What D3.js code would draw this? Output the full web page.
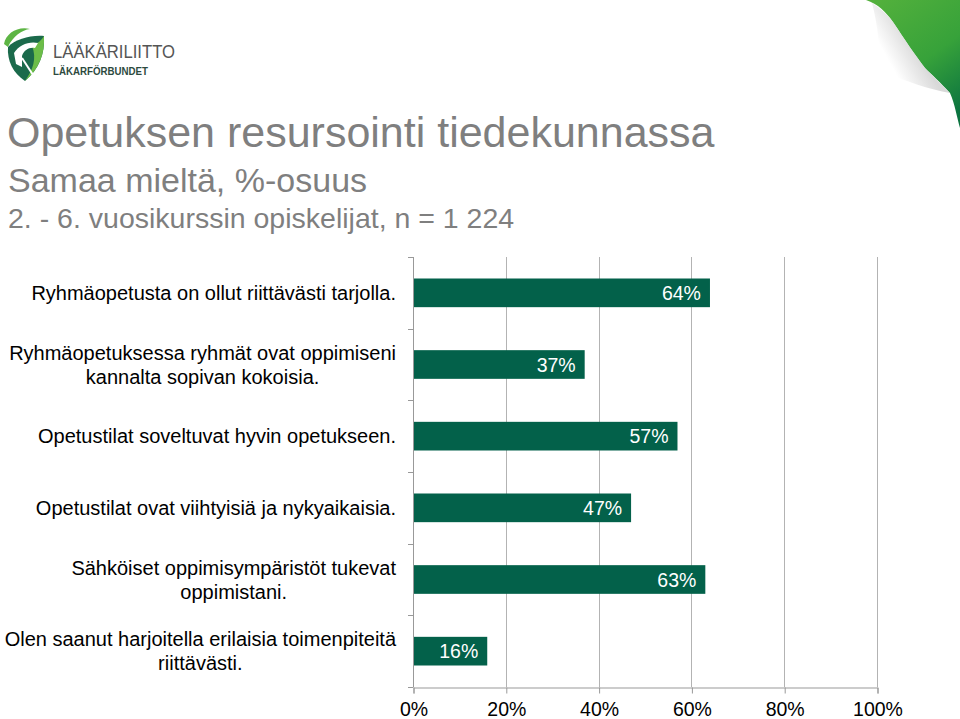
<!DOCTYPE html>
<html><head><meta charset="utf-8">
<script src="https://cdn.jsdelivr.net/npm/d3@7"></script>
<style>body{margin:0;background:#fff}svg{display:block}text{font-family:"Liberation Sans",Arial,sans-serif}</style>
</head><body>
<svg id="c" width="960" height="719"></svg>
<script>
const categories = [
  ["Ryhmäopetusta on ollut riittävästi tarjolla."],
  ["Ryhmäopetuksessa ryhmät ovat oppimiseni", "kannalta sopivan kokoisia."],
  ["Opetustilat soveltuvat hyvin opetukseen."],
  ["Opetustilat ovat viihtyisiä ja nykyaikaisia."],
  ["Sähköiset oppimisympäristöt tukevat", "oppimistani."],
  ["Olen saanut harjoitella erilaisia toimenpiteitä", "riittävästi."]
];
const values = [64, 37, 57, 47, 63, 16];
const tickValues = [0, 20, 40, 60, 80, 100];
const titleLines = ["Opetuksen resursointi tiedekunnassa", "Samaa mieltä, %-osuus", "2. - 6. vuosikurssin opiskelijat, n = 1 224"];

const svg = d3.select("#c");
const defs = svg.append("defs");
const g1 = defs.append("linearGradient").attr("id","curlG").attr("gradientUnits","userSpaceOnUse")
  .attr("x1",880).attr("y1",0).attr("x2",960).attr("y2",110);
g1.append("stop").attr("offset","0").attr("stop-color","#52b03c");
g1.append("stop").attr("offset","0.55").attr("stop-color","#37a23a");
g1.append("stop").attr("offset","1").attr("stop-color","#0c7440");
const g2 = defs.append("linearGradient").attr("id","foldG").attr("gradientUnits","userSpaceOnUse")
  .attr("x1",915).attr("y1",45).attr("x2",888).attr("y2",60);
g2.append("stop").attr("offset","0").attr("stop-color","#cfcfcf");
g2.append("stop").attr("offset","1").attr("stop-color","#ffffff");

// page curl
svg.append("path").attr("d","M866,0 L960,0 L960,128 C957,118 955,104 950,93 C940,82 932,75 925,68 C915,55 905,40 893,22 C886,12 878,4 866,0 Z").attr("fill","url(#curlG)");
svg.append("path").attr("d","M872,3 C880,8 887,14 893,22 C905,40 915,55 925,68 C935,78 945,88 950,93 C930,90 905,80 880,72 C880,50 878,25 872,3 Z").attr("fill","url(#foldG)").attr("opacity",0.8);

// logo
const logo = svg.append("g");
logo.append("path").attr("d","M4,44 C6,33 18,26 30,29 C22,30 13,36 8,47 Z").attr("fill","#5db544");
logo.append("path").attr("d","M8,47 C16,39 30,35 44,36 C45,54 39,69 25,81 C13,73 7,61 8,47 Z").attr("fill","#1b6a4b");
logo.append("path").attr("d","M32,46 C38,43 42,40 44,36 C45,54 39,69 25,81 C33,70 37,58 32,46 Z").attr("fill","#6cbd48");
logo.append("path").attr("d","M14,53 C19,45 29,41 38,43 L35,48 C29,47 24,50 22,56 L22,67 L16,64 Z").attr("fill","#fff");
logo.append("path").attr("d","M22,58 L35,78").attr("stroke","#fff").attr("stroke-width",2).attr("fill","none");
logo.append("text").attr("x",53).attr("y",58).attr("font-size",18).attr("fill","#555")
  .attr("textLength",122).attr("lengthAdjust","spacingAndGlyphs").text("LÄÄKÄRILIITTO");
logo.append("text").attr("x",53).attr("y",74.5).attr("font-size",10.5).attr("fill","#2d4a3e").attr("font-weight","bold")
  .attr("textLength",95).attr("lengthAdjust","spacingAndGlyphs").text("LÄKARFÖRBUNDET");

// titles
svg.append("text").attr("x",7).attr("y",147).attr("font-size",43).attr("fill","#7f7f7f").text(titleLines[0]);
svg.append("text").attr("x",8).attr("y",192).attr("font-size",34).attr("fill","#7f7f7f").text(titleLines[1]);
svg.append("text").attr("x",8).attr("y",228).attr("font-size",28.5).attr("fill","#7f7f7f").text(titleLines[2]);

// chart
const x = d3.scaleLinear().domain([0,100]).range([413,877]);
const y = d3.scaleBand().domain(d3.range(categories.length)).range([257,687]).paddingInner(0.6).paddingOuter(0.3);
const band = (687-257)/categories.length;

// gridlines
svg.append("g").selectAll("line").data(tickValues.slice(1)).join("line")
  .attr("x1",d=>Math.round(x(d))+0.5).attr("x2",d=>Math.round(x(d))+0.5).attr("y1",257).attr("y2",687)
  .attr("stroke","#b3b3b3").attr("stroke-width",1);

// bars
svg.append("g").selectAll("rect").data(values).join("rect")
  .attr("x",x(0)).attr("y",(d,i)=>y(i)).attr("width",d=>x(d)-x(0)).attr("height",y.bandwidth())
  .attr("fill","#03614a");

svg.append("g").selectAll("text").data(values).join("text")
  .attr("x",d=>x(d)-9).attr("y",(d,i)=>y(i)+y.bandwidth()/2+7)
  .attr("text-anchor","end").attr("font-size",19.5).attr("fill","#fff").text(d=>d+"%");

// axes
const yLeft = svg.append("g");
yLeft.append("line").attr("x1",413.5).attr("x2",413.5).attr("y1",257).attr("y2",687).attr("stroke","#999");
yLeft.selectAll("line.t").data(d3.range(categories.length+1)).join("line").attr("class","t")
  .attr("x1",408).attr("x2",413.5).attr("y1",i=>Math.round(257+i*band)+0.5).attr("y2",i=>Math.round(257+i*band)+0.5).attr("stroke","#999");

const xAxis = d3.axisBottom(x).tickValues(tickValues).tickFormat(d=>d+"%").tickSize(6).tickPadding(9);
const xa = svg.append("g").attr("transform","translate(0.5,687.5)").call(xAxis);
xa.select(".domain").attr("stroke","#999");
xa.selectAll(".tick line").attr("stroke","#999");
xa.selectAll(".tick text").attr("font-size",19.5).attr("fill","#000").attr("font-family","Liberation Sans, Arial, sans-serif");

// category labels
const lab = svg.append("g");
categories.forEach((lines,i)=>{
  const cy = y(i)+y.bandwidth()/2;
  const lh = 24;
  const t = lab.append("text").attr("font-size",20).attr("fill","#000").attr("text-anchor","middle");
  lines.forEach((s,j)=>{
    t.append("tspan").attr("y",cy + 7 + (j-(lines.length-1)/2)*lh).text(s);
  });
  let maxW = 0;
  t.selectAll("tspan").each(function(){ maxW = Math.max(maxW, this.getComputedTextLength()); });
  t.selectAll("tspan").attr("x", 396 - maxW/2);
});
</script>
</body></html>
